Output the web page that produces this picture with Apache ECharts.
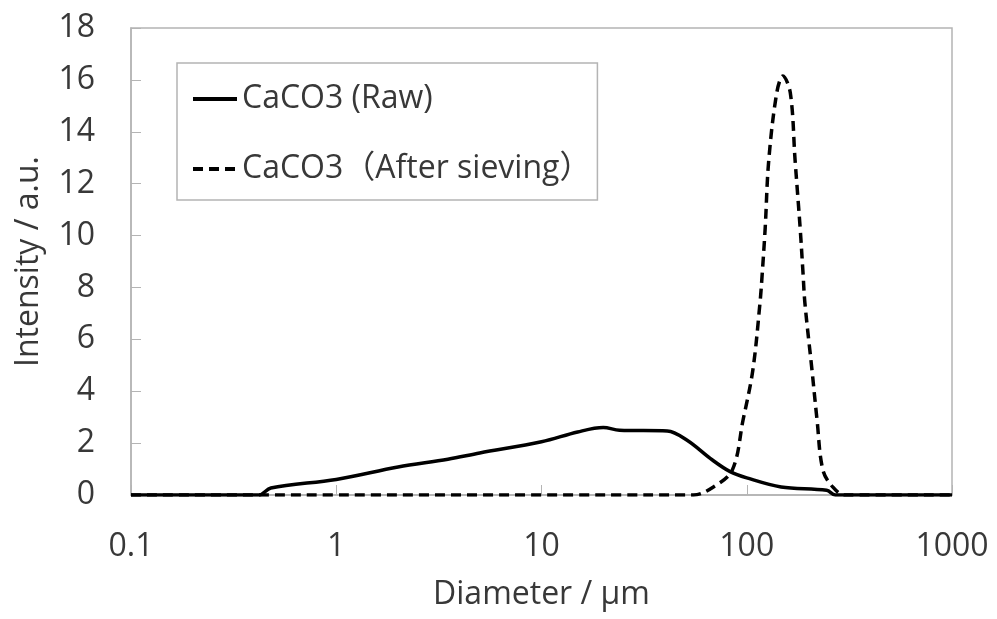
<!DOCTYPE html>
<html>
<head>
<meta charset="utf-8">
<script src="https://cdn.jsdelivr.net/npm/echarts@6/dist/echarts.min.js"></script>
<style>
  html, body { margin: 0; padding: 0; background: #fff; }
  #main { width: 997px; height: 619px; }
</style>
</head>
<body>
<div id="main"></div>
<script>
// diameter (um) / intensity
var rawX = [0.1, 0.42, 0.48, 1, 2, 3.5, 5, 10, 15, 20, 24, 41, 51, 68, 83, 100, 147, 245, 270, 1000];
var rawY = [0, 0, 0.27, 0.6, 1.08, 1.38, 1.62, 2.05, 2.43, 2.6, 2.5, 2.47, 2.12, 1.35, 0.9, 0.66, 0.31, 0.18, 0, 0];

var sievX = [0.1, 55, 68.5, 85, 96, 107, 116, 119, 123, 128, 140, 150, 163, 172, 182, 188, 192, 208, 220, 235, 263, 300, 1000];
var sievY = [0, 0, 0.3, 0.96, 2.9, 4.8, 7.4, 8.55, 10.3, 12.9, 15.5, 16.15, 15.5, 12.9, 10.3, 8.55, 7.4, 4.8, 2.9, 0.96, 0.3, 0, 0];

var seriesNames = ['CaCO3 (Raw)', 'CaCO3（After sieving）'];

function pairs(xs, ys) {
  var out = [];
  for (var i = 0; i < xs.length; i++) out.push([xs[i], ys[i]]);
  return out;
}

var txt = '#383838';
var axisGray = '#b4b4b4';
var font = '"Open Sans", "Noto Sans", "Noto Sans CJK JP", sans-serif';
var fs = 32;

var chart = echarts.init(document.getElementById('main'));
chart.setOption({
  animation: false,
  grid: {
    left: 131, right: 45, top: 28, bottom: 124,
    show: true, borderColor: axisGray, borderWidth: 1.5
  },
  legend: {
    orient: 'vertical',
    left: 177, top: 63,
    padding: [19, 6, 14, 14],
    itemGap: 36,
    itemWidth: 44, itemHeight: 14,
    borderColor: axisGray, borderWidth: 1.5,
    itemStyle: { opacity: 0 },
    lineStyle: { width: 4 },
    textStyle: { fontSize: fs, lineHeight: 34, color: txt, fontFamily: font },
    data: seriesNames
  },
  xAxis: {
    type: 'log', logBase: 10, min: 0.1, max: 1000,
    name: 'Diameter / µm', nameLocation: 'middle', nameGap: 84,
    nameTextStyle: { fontSize: fs, color: txt, fontFamily: font },
    axisLine: { lineStyle: { color: axisGray, width: 1.5 } },
    axisTick: { inside: true, length: 10, lineStyle: { color: axisGray } },
    minorTick: { show: false },
    splitLine: { show: false },
    axisLabel: {
      fontSize: fs, color: txt, fontFamily: font, margin: 36,
      formatter: function (v) { return String(v); }
    }
  },
  yAxis: {
    type: 'value', min: 0, max: 18, interval: 2,
    name: 'Intensity / a.u.', nameLocation: 'middle', nameGap: 86,
    nameTextStyle: { fontSize: fs, color: txt, fontFamily: font },
    axisLine: { show: true, lineStyle: { color: axisGray, width: 1.5 } },
    axisTick: { show: true, inside: true, length: 10, lineStyle: { color: axisGray } },
    splitLine: { show: false },
    axisLabel: { fontSize: fs, color: txt, fontFamily: font, margin: 36 }
  },
  series: [
    {
      name: seriesNames[0], type: 'line', data: pairs(rawX, rawY),
      showSymbol: false, symbol: 'none',
      smooth: 0.35,
      lineStyle: { color: '#000', width: 3.5 },
      itemStyle: { color: '#000' }
    },
    {
      name: seriesNames[1], type: 'line', data: pairs(sievX, sievY),
      showSymbol: false, symbol: 'none',
      smooth: 0.35,
      lineStyle: { color: '#000', width: 3.5, type: [10, 6] },
      itemStyle: { color: '#000' }
    }
  ]
});
</script>
</body>
</html>
